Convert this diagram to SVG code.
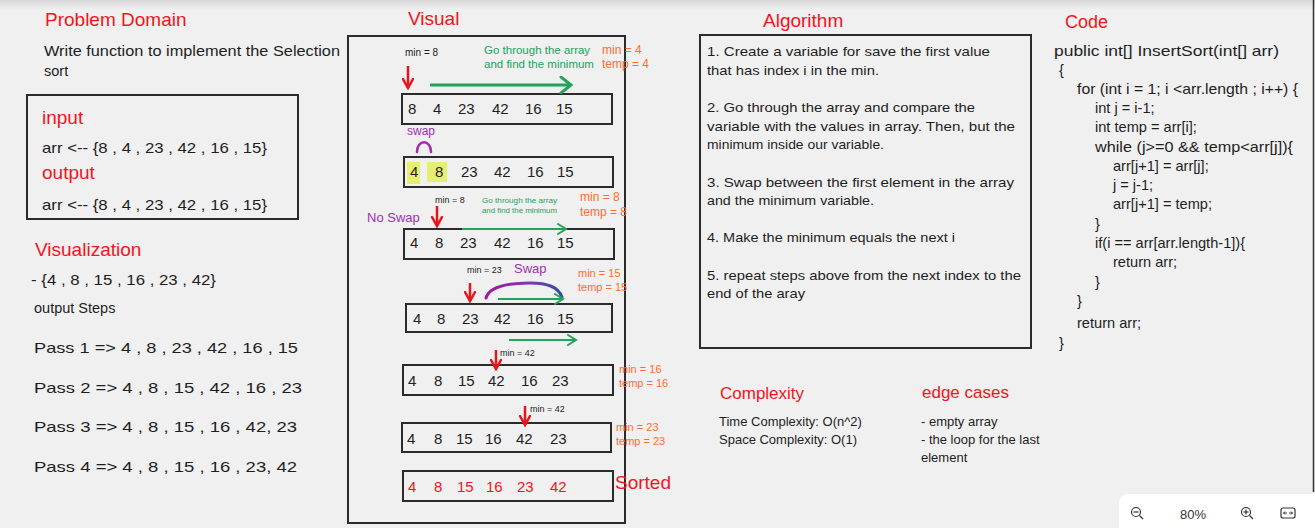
<svg xmlns="http://www.w3.org/2000/svg" width="1315" height="528" viewBox="0 0 1315 528">
<defs>
<linearGradient id="topShade" x1="0" y1="0" x2="0" y2="1">
<stop offset="0" stop-color="#d6d6d6"/>
<stop offset="1" stop-color="#f0f0f0"/>
</linearGradient>
<linearGradient id="swapGrad" x1="0" y1="0" x2="1" y2="0">
<stop offset="0" stop-color="#9c1aa0"/>
<stop offset="0.6" stop-color="#7a3da8"/>
<stop offset="1" stop-color="#2f4fa0"/>
</linearGradient>
<marker id="gHead" markerWidth="12" markerHeight="12" refX="9" refY="6" orient="auto" markerUnits="userSpaceOnUse">
<path d="M1,1 L9,6 L1,11" fill="none" stroke="#22a35a" stroke-width="2" stroke-linecap="round"/>
</marker>
<marker id="gHeadBig" markerWidth="16" markerHeight="18" refX="12" refY="9" orient="auto" markerUnits="userSpaceOnUse">
<path d="M2,1 L12,9 L2,17" fill="none" stroke="#22a35a" stroke-width="3" stroke-linecap="round"/>
</marker>
<marker id="rHead" markerWidth="12" markerHeight="12" refX="10" refY="6" orient="auto" markerUnits="userSpaceOnUse">
<path d="M1,1 L10,6 L1,11" fill="none" stroke="#e8141a" stroke-width="2.5" stroke-linecap="round"/>
</marker>
<style>
text{font-family:"Liberation Sans","DejaVu Sans",sans-serif;fill:#1e1e1e}
.h{fill:#f2141b;font-size:19px}
.t{font-size:14.5px}
.num{font-size:15px}
.sm{font-size:10px}
.tiny{font-size:9px}
.or{fill:#ff6d2e;font-size:12px}
.or2{fill:#ff6d2e;font-size:11px}
.gr{fill:#22a35a;font-size:11.5px}
.gr2{fill:#22a35a;font-size:8px}
.pu{fill:#a12fb0}
.box{fill:none;stroke:#2b2b2b;stroke-width:2}
.bigbox{fill:none;stroke:#2b2b2b;stroke-width:2}
.ga{stroke:#22a35a;stroke-width:2;fill:none;marker-end:url(#gHead)}
.ra{stroke:#e8141a;stroke-width:2.5;fill:none;marker-end:url(#rHead)}
.alg{font-size:13.4px}
.code{font-size:14.6px}
.cx{font-size:13px}
.red{fill:#f2141b}
</style>
</defs>
<rect width="1315" height="528" fill="#f0f0f0"/>
<rect width="1315" height="10" fill="url(#topShade)"/>
<line x1="1313.5" y1="0" x2="1313.5" y2="492" stroke="#333" stroke-width="1.5"/>

<g id="problem-domain">
<text x="45" y="26" class="h">Problem Domain</text>
<text x="44" y="56" class="t" textLength="296" lengthAdjust="spacingAndGlyphs">Write function to implement the Selection</text>
<text x="44" y="76" class="t">sort</text>
<rect x="27" y="95" width="271" height="124" class="box"/>
<text x="42" y="124" class="h">input</text>
<text x="42" y="153" class="t" textLength="225" lengthAdjust="spacingAndGlyphs">arr &lt;-- {8 , 4 , 23 , 42 , 16 , 15}</text>
<text x="42" y="179" class="h">output</text>
<text x="42" y="210" class="t" textLength="225" lengthAdjust="spacingAndGlyphs">arr &lt;-- {8 , 4 , 23 , 42 , 16 , 15}</text>
</g>

<g id="visualization">
<text x="35" y="256" class="h">Visualization</text>
<text x="31" y="285" class="t" textLength="185" lengthAdjust="spacingAndGlyphs">- {4 , 8 , 15 , 16 , 23 , 42}</text>
<text x="34" y="313" class="t">output Steps</text>
<text x="34" y="353" class="t" textLength="264" lengthAdjust="spacingAndGlyphs">Pass 1 =&gt; 4 ,  8  ,  23  ,  42 ,  16 ,  15</text>
<text x="34" y="393" class="t" textLength="268" lengthAdjust="spacingAndGlyphs">Pass 2 =&gt; 4 ,  8  ,  15  ,  42 ,  16 ,  23</text>
<text x="34" y="432" class="t" textLength="263" lengthAdjust="spacingAndGlyphs">Pass 3 =&gt; 4 ,  8  ,  15  ,  16 ,  42,  23</text>
<text x="34" y="472" class="t" textLength="263" lengthAdjust="spacingAndGlyphs">Pass 4 =&gt; 4 ,  8  ,  15  ,  16 ,  23,  42</text>
</g>

<g id="visual">
<text x="408" y="25" class="h">Visual</text>
<rect x="348" y="36" width="277" height="487" class="bigbox"/>

<g id="step1">
<text x="405" y="56" class="sm">min = 8</text>
<text x="484" y="54" class="gr">Go through the array</text>
<text x="484" y="68" class="gr">and find the minimum</text>
<text x="602" y="54" class="or">min = 4</text>
<text x="602" y="68" class="or">temp = 4</text>
<rect x="402" y="94" width="210" height="30" class="box"/>
<text x="408" y="114" class="num">8</text><text x="433" y="114" class="num">4</text><text x="458" y="114" class="num">23</text><text x="492" y="114" class="num">42</text><text x="525" y="114" class="num">16</text><text x="556" y="114" class="num">15</text>
</g>

<g id="step2">
<text x="407" y="135" class="pu" style="font-size:12px">swap</text>
<rect x="407" y="162" width="13" height="22" fill="#e6ef72"/>
<rect x="427" y="162" width="20" height="20" fill="#e6ef72"/>
<rect x="404" y="157" width="209" height="30" class="box"/>
<text x="410" y="177" class="num">4</text><text x="435" y="177" class="num">8</text><text x="461" y="177" class="num">23</text><text x="494" y="177" class="num">42</text><text x="527" y="177" class="num">16</text><text x="557" y="177" class="num">15</text>
</g>

<g id="step3">
<text x="435" y="203" class="tiny">min = 8</text>
<text x="482" y="203" class="gr2" textLength="75" lengthAdjust="spacingAndGlyphs">Go through the array</text>
<text x="482" y="213" class="gr2" textLength="75" lengthAdjust="spacingAndGlyphs">and find the minimum</text>
<text x="580" y="201" class="or">min = 8</text>
<text x="580" y="216" class="or">temp = 8</text>
<text x="367" y="222" class="pu" style="font-size:13px">No Swap</text>
<rect x="404" y="229" width="210" height="30" class="box"/>
<text x="410" y="248" class="num">4</text><text x="435" y="248" class="num">8</text><text x="460" y="248" class="num">23</text><text x="494" y="248" class="num">42</text><text x="527" y="248" class="num">16</text><text x="557" y="248" class="num">15</text>
</g>

<g id="step4">
<text x="467" y="273" class="tiny">min = 23</text>
<text x="514" y="273" class="pu" style="font-size:13px">Swap</text>
<text x="578" y="277" class="or2">min = 15</text>
<text x="578" y="291" class="or2">temp = 15</text>
<rect x="406" y="304" width="206" height="28" class="box"/>
<text x="413" y="324" class="num">4</text><text x="437" y="324" class="num">8</text><text x="462" y="324" class="num">23</text><text x="494" y="324" class="num">42</text><text x="527" y="324" class="num">16</text><text x="557" y="324" class="num">15</text>
</g>

<g id="step5">
<text x="500" y="356" class="tiny">min = 42</text>
<text x="619" y="373" class="or2">min = 16</text>
<text x="619" y="387" class="or2">temp = 16</text>
<rect x="403" y="365" width="210" height="30" class="box"/>
<text x="408" y="386" class="num">4</text><text x="434" y="386" class="num">8</text><text x="458" y="386" class="num">15</text><text x="488" y="386" class="num">42</text><text x="521" y="386" class="num">16</text><text x="552" y="386" class="num">23</text>
</g>

<g id="step6">
<text x="530" y="412" class="tiny">min = 42</text>
<text x="616" y="431" class="or2">min = 23</text>
<text x="616" y="445" class="or2">temp = 23</text>
<rect x="402" y="423" width="209" height="29" class="box"/>
<text x="407" y="444" class="num">4</text><text x="434" y="444" class="num">8</text><text x="456" y="444" class="num">15</text><text x="485" y="444" class="num">16</text><text x="516" y="444" class="num">42</text><text x="550" y="444" class="num">23</text>
</g>

<g id="sorted">
<rect x="403" y="471" width="210" height="30" class="box"/>
<text x="408" y="492" class="num red">4</text><text x="434" y="492" class="num red">8</text><text x="457" y="492" class="num red">15</text><text x="486" y="492" class="num red">16</text><text x="517" y="492" class="num red">23</text><text x="550" y="492" class="num red">42</text>
<text x="615" y="489" class="h">Sorted</text>
</g>
</g>

<g id="connectors">
<line x1="408" y1="66" x2="408" y2="88" class="ra"/>
<line x1="430" y1="85" x2="571" y2="85" stroke="#22a35a" stroke-width="3" marker-end="url(#gHeadBig)"/>
<path d="M417,152 C417,139 431,139 431,152" fill="none" stroke="#a12fb0" stroke-width="2.5" stroke-linecap="round"/>
<line x1="437" y1="206" x2="437" y2="226" class="ra"/>
<line x1="462" y1="229" x2="566" y2="229" class="ga"/>
<line x1="470" y1="283" x2="470" y2="301" class="ra"/>
<path d="M486,298 C490,284 515,283 530,283 C548,283 558,287 562,297" fill="none" stroke="url(#swapGrad)" stroke-width="3" stroke-linecap="round"/>
<line x1="498" y1="299" x2="563" y2="299" class="ga"/>
<line x1="509" y1="340" x2="576" y2="340" class="ga"/>
<line x1="496" y1="350" x2="496" y2="369" class="ra"/>
<line x1="525" y1="406" x2="525" y2="425" class="ra"/>
</g>

<g id="algorithm">
<text x="763" y="27" class="h">Algorithm</text>
<rect x="700" y="35" width="331" height="313" class="box"/>
<text x="707" y="56" class="alg" textLength="283" lengthAdjust="spacingAndGlyphs">1. Create a variable for save the first value</text>
<text x="707" y="75" class="alg" textLength="172" lengthAdjust="spacingAndGlyphs">that has index i in the min.</text>
<text x="707" y="112" class="alg" textLength="268" lengthAdjust="spacingAndGlyphs">2. Go through the array and compare the</text>
<text x="707" y="131" class="alg" textLength="308" lengthAdjust="spacingAndGlyphs">variable with the values in array. Then, but the</text>
<text x="707" y="149" class="alg" textLength="177" lengthAdjust="spacingAndGlyphs">minimum inside our variable.</text>
<text x="707" y="187" class="alg" textLength="307" lengthAdjust="spacingAndGlyphs">3. Swap between the first element in the array</text>
<text x="707" y="205" class="alg" textLength="167" lengthAdjust="spacingAndGlyphs">and the minimum variable.</text>
<text x="707" y="242" class="alg" textLength="248" lengthAdjust="spacingAndGlyphs">4. Make the minimum equals the next i</text>
<text x="707" y="280" class="alg" textLength="314" lengthAdjust="spacingAndGlyphs">5. repeat steps above from the next index to the</text>
<text x="707" y="298" class="alg" textLength="98" lengthAdjust="spacingAndGlyphs">end of the aray</text>
</g>

<g id="code">
<text x="1065" y="28" class="h" style="font-size:18px">Code</text>
<text x="1054" y="56" class="code" textLength="225" lengthAdjust="spacingAndGlyphs">public int[] InsertSort(int[] arr)</text>
<text x="1059" y="75" class="code">{</text>
<text x="1077" y="94" class="code" textLength="221" lengthAdjust="spacingAndGlyphs">for (int i = 1; i &lt;arr.length ; i++) {</text>
<text x="1095" y="113" class="code">int j = i-1;</text>
<text x="1095" y="132" class="code">int temp = arr[i];</text>
<text x="1095" y="152" class="code" textLength="198" lengthAdjust="spacingAndGlyphs">while (j&gt;=0 &amp;&amp; temp&lt;arr[j]){</text>
<text x="1113" y="171" class="code">arr[j+1] = arr[j];</text>
<text x="1113" y="190" class="code">j = j-1;</text>
<text x="1113" y="209" class="code">arr[j+1] = temp;</text>
<text x="1095" y="229" class="code">}</text>
<text x="1095" y="248" class="code">if(i == arr[arr.length-1]){</text>
<text x="1113" y="267" class="code">return arr;</text>
<text x="1095" y="287" class="code">}</text>
<text x="1077" y="306" class="code">}</text>
<text x="1077" y="328" class="code">return arr;</text>
<text x="1059" y="348" class="code">}</text>
</g>

<g id="complexity">
<text x="720" y="399" class="h" style="font-size:17px">Complexity</text>
<text x="719" y="426" class="cx">Time Complexity: O(n^2)</text>
<text x="719" y="444" class="cx">Space Complexity: O(1)</text>
</g>

<g id="edge-cases">
<text x="922" y="398" class="h" style="font-size:17px">edge cases</text>
<text x="921" y="426" class="cx">- empty array</text>
<text x="921" y="444" class="cx">- the loop for the last</text>
<text x="921" y="462" class="cx">element</text>
</g>

<g id="zoom-widget">
<rect x="1119" y="494" width="210" height="50" rx="9" fill="#ffffff"/>
<circle cx="1136" cy="512" r="4.5" fill="none" stroke="#333" stroke-width="1.2"/>
<line x1="1133.5" y1="512" x2="1138.5" y2="512" stroke="#333" stroke-width="1.2"/>
<line x1="1139.5" y1="515.5" x2="1143" y2="519" stroke="#333" stroke-width="1.2"/>
<text x="1193" y="519" text-anchor="middle" style="font-size:13px;fill:#333">80%</text>
<circle cx="1246" cy="512" r="4.5" fill="none" stroke="#333" stroke-width="1.2"/>
<line x1="1243.5" y1="512" x2="1248.5" y2="512" stroke="#333" stroke-width="1.2"/>
<line x1="1246" y1="509.5" x2="1246" y2="514.5" stroke="#333" stroke-width="1.2"/>
<line x1="1249.5" y1="515.5" x2="1253" y2="519" stroke="#333" stroke-width="1.2"/>
<rect x="1281" y="508" width="14" height="10" rx="2" fill="none" stroke="#333" stroke-width="1.2"/>
<path d="M1283.5,513 L1287,513 M1289,513 L1292.5,513 M1285,511.5 L1283.5,513 L1285,514.5 M1291,511.5 L1292.5,513 L1291,514.5" fill="none" stroke="#333" stroke-width="1"/>
</g>
</svg>
